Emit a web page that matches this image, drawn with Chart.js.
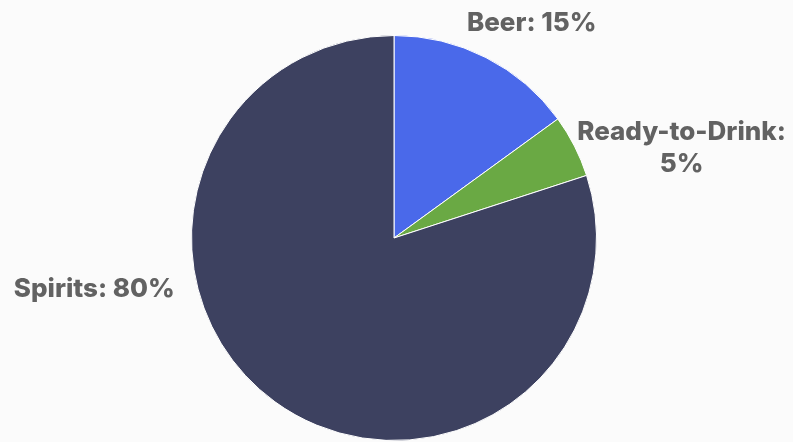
<!DOCTYPE html>
<html>
<head>
<meta charset="utf-8">
<script src="https://cdn.jsdelivr.net/npm/chart.js@4"></script>
<style>
  html, body { margin: 0; padding: 0; background: #fbfbfb; }
  #wrap { width: 793px; height: 442px; position: relative; }
</style>
</head>
<body>
<div id="wrap"><canvas id="pizza"></canvas></div>
<script>
// categorias e participação (%)
const categorias = ['Beer', 'Ready-to-Drink', 'Spirits'];
const participacao = [15, 5, 80];
const cores = ['#4a69ea', '#6aa944', '#3d4160'];

// linhas do rótulo de cada fatia
const rotulos = [
    ['Beer: 15%'],
    ['Ready-to-Drink:', '5%'],
    ['Spirits: 80%']
];

// deslocamento do rótulo em relação ao centro, em múltiplos do raio
const ajusteRotulos = [
    { x: 0.68, y: -1.02 },
    { x: 1.42, y: -0.483 },
    { x: -1.48, y: 0.291 }
];

const rotulosExternos = {
    id: 'rotulosExternos',
    afterDatasetsDraw(chart) {
        const ctx = chart.ctx;
        const arcos = chart.getDatasetMeta(0).data;
        ctx.save();
        ctx.font = '800 26px Inter';
        ctx.fillStyle = '#626262';
        ctx.textAlign = 'center';
        ctx.textBaseline = 'alphabetic';
        arcos.forEach((arco, i) => {
            const r = arco.outerRadius;
            const x = arco.x + ajusteRotulos[i].x * r;
            const y = arco.y + ajusteRotulos[i].y * r;
            rotulos[i].forEach((linha, j) => {
                ctx.fillText(linha, x, y + j * 32);
            });
        });
        ctx.restore();
    }
};

new Chart(document.getElementById('pizza').getContext('2d'), {
    type: 'pie',
    data: {
        labels: categorias,
        datasets: [{
            data: participacao,
            backgroundColor: cores,
            borderColor: '#ffffff',
            borderWidth: 1
        }]
    },
    options: {
        responsive: true,
        maintainAspectRatio: false,
        animation: false,
        layout: { padding: { top: 35, bottom: 1, left: 0, right: 5 } },
        plugins: {
            legend: { display: false },
            tooltip: { enabled: false }
        }
    },
    plugins: [rotulosExternos]
});
</script>
</body>
</html>
